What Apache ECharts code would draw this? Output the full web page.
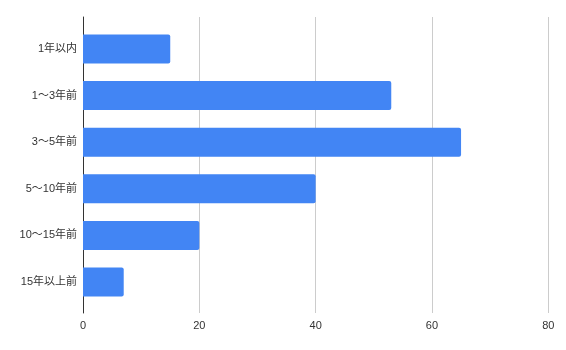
<!DOCTYPE html>
<html>
<head>
<meta charset="utf-8">
<script src="https://cdn.jsdelivr.net/npm/echarts@6/dist/echarts.min.js"></script>
<style>html,body{margin:0;padding:0;background:#fff}#c{width:566px;height:350px}</style>
</head>
<body>
<div id="c"></div>
<script>
const categories = ['1年以内', '1〜3年前', '3〜5年前', '5〜10年前', '10〜15年前', '15年以上前'];
const values = [15, 53, 65, 40, 20, 7];
const xTicks = [0, 20, 40, 60, 80];

const font = "'Liberation Sans', Arial, 'Noto Sans CJK JP', sans-serif";
const chart = echarts.init(document.getElementById('c'));
chart.setOption({
  animation: false,
  backgroundColor: '#fff',
  grid: [
    { left: 83, right: 17.7, top: 17, bottom: 37 },
    { left: 83, right: 17.7, top: 25.7, bottom: 44.7 }
  ],
  xAxis: [
    {
      gridIndex: 0, type: 'value', min: xTicks[0], max: xTicks[xTicks.length - 1], interval: 20,
      axisLine: { show: false }, axisTick: { show: false },
      splitLine: { show: true, lineStyle: { color: '#cccccc', width: 1 } },
      axisLabel: { color: '#333', fontSize: 11, fontFamily: font, margin: 7 }
    },
    {
      gridIndex: 1, type: 'value', min: xTicks[0], max: xTicks[xTicks.length - 1], show: false
    }
  ],
  yAxis: [
    {
      gridIndex: 0, type: 'value',
      axisLine: { show: true, lineStyle: { color: '#333', width: 1 } },
      axisTick: { show: false }, axisLabel: { show: false }, splitLine: { show: false }
    },
    {
      gridIndex: 1, type: 'category', data: categories, inverse: true,
      axisLine: { show: false }, axisTick: { show: false },
      axisLabel: { color: '#333', fontSize: 11, fontFamily: font, margin: 6 }
    }
  ],
  series: [{
    type: 'bar', xAxisIndex: 1, yAxisIndex: 1, data: values,
    barWidth: 29,
    itemStyle: { color: '#4285F4', borderRadius: [0, 2, 2, 0] }
  }]
});
</script>
</body>
</html>
